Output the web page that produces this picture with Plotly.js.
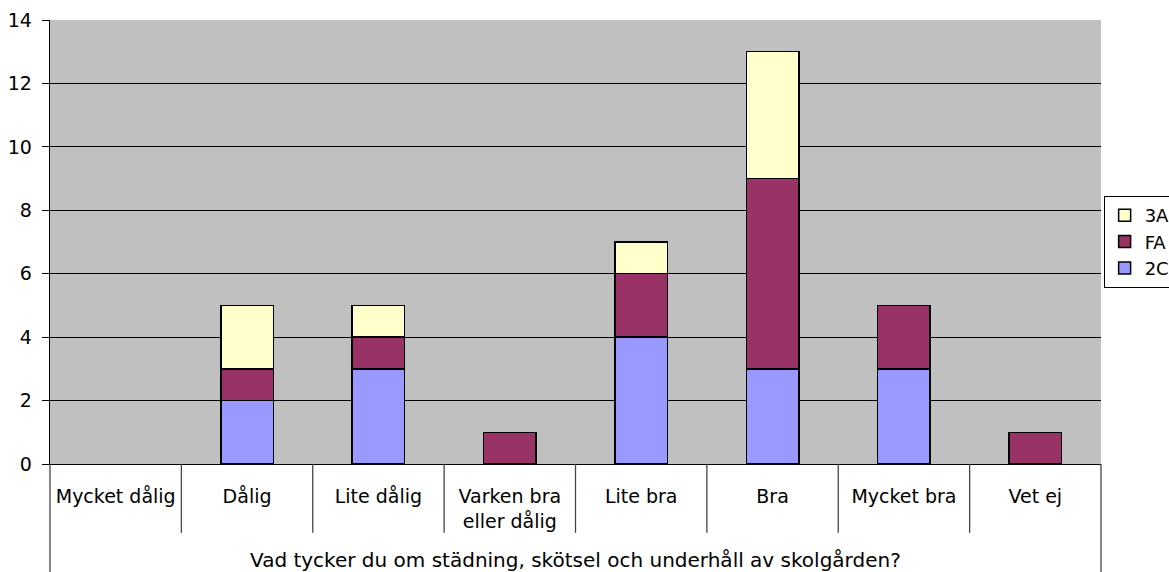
<!DOCTYPE html>
<html>
<head>
<meta charset="utf-8">
<script src="https://cdn.plot.ly/plotly-3.0.1.min.js"></script>
<style>html,body{margin:0;padding:0;background:#fff;}#chart{width:1169px;height:572px;}</style>
</head>
<body>
<div id="chart"></div>
<script>
var categories = ["Mycket dålig", "Dålig", "Lite dålig", "Varken bra<br>eller dålig", "Lite bra", "Bra", "Mycket bra", "Vet ej"];
var series2C = [0, 2, 3, 0, 4, 3, 3, 0];
var seriesFA = [0, 1, 1, 1, 2, 6, 2, 1];
var series3A = [0, 2, 1, 0, 1, 4, 0, 0];
var xTitle = "Vad tycker du om städning, skötsel och underhåll av skolgården?";
var yTicks = [0, 2, 4, 6, 8, 10, 12, 14];

var font = {family: "DejaVu Sans, Verdana, sans-serif", size: 19, color: "#000"};
var line = {color: "#000", width: 1.5};
var idx = categories.map(function(_, i){ return i; });
function noZero(arr){ return arr.map(function(v){ return v === 0 ? null : v; }); }

var traces = [
  {type: "bar", name: "2C", x: idx, y: noZero(series2C), marker: {color: "#9999FF", line: line}},
  {type: "bar", name: "FA", x: idx, y: noZero(seriesFA), marker: {color: "#993366", line: line}},
  {type: "bar", name: "3A", x: idx, y: noZero(series3A), marker: {color: "#FFFFCC", line: line}}
];

var shapes = [];
for (var k = 1; k < categories.length; k++) {
  shapes.push({type: "line", xref: "x", yref: "paper", x0: k - 0.5, x1: k - 0.5, y0: 0, y1: -0.155, line: {color: "#444", width: 1.3}});
}
shapes.push({type: "line", xref: "paper", yref: "paper", x0: 0, x1: 0, y0: 0, y1: -0.3, line: {color: "#444", width: 1.3}});
shapes.push({type: "line", xref: "paper", yref: "paper", x0: 1, x1: 1, y0: 0, y1: -0.3, line: {color: "#444", width: 1.3}});

var layout = {
  width: 1169, height: 572,
  margin: {l: 50, r: 68, t: 20, b: 108, autoexpand: false},
  paper_bgcolor: "#fff",
  plot_bgcolor: "#C0C0C0",
  font: font,
  barmode: "stack",
  bargap: 0.6,
  showlegend: true,
  legend: {x: 1.0025, xanchor: "left", y: 0.5, yanchor: "middle", traceorder: "reversed",
           bordercolor: "#000", borderwidth: 1, bgcolor: "#fff",
           font: {family: font.family, size: 18, color: "#000"}, itemwidth: 30,
           tracegroupgap: 0},
  xaxis: {
    range: [-0.5, categories.length - 0.5],
    tickmode: "array", tickvals: idx, ticktext: categories,
    showgrid: false, zeroline: false, showline: true, linecolor: "#000", linewidth: 1.3,
    ticks: "", ticklabelstandoff: 15, tickfont: font, fixedrange: true
  },
  yaxis: {
    range: [0, 14], tickmode: "array", tickvals: yTicks,
    showgrid: true, gridcolor: "#000", gridwidth: 1,
    zeroline: false, showline: true, linecolor: "#000", linewidth: 1.3,
    ticks: "outside", ticklen: 7, tickcolor: "#000", ticklabelstandoff: 6, tickfont: font
  },
  shapes: shapes,
  annotations: [{
    text: xTitle, xref: "paper", yref: "paper", x: 0.5, y: -0.216,
    xanchor: "center", yanchor: "middle", showarrow: false,
    font: {family: font.family, size: 20, color: "#000"}
  }]
};

Plotly.newPlot("chart", traces, layout, {displayModeBar: false, staticPlot: true});
</script>
</body>
</html>
